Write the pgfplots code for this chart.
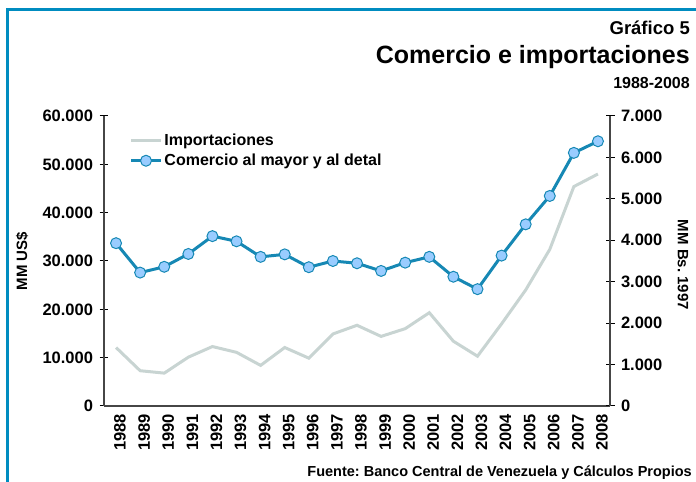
\documentclass[border=0pt]{standalone}
\usepackage{pgfplots}
\pgfplotsset{compat=1.18}
\usepackage{fontspec}
\setmainfont{Liberation Sans}
\frenchspacing
\definecolor{frame}{RGB}{0,140,192}
\definecolor{comline}{RGB}{22,136,180}
\definecolor{comfill}{RGB}{153,204,255}
\definecolor{impline}{RGB}{200,212,210}
\definecolor{axcol}{RGB}{70,70,70}
\newcommand{\fs}[1]{\fontsize{#1bp}{#1bp}\selectfont\bfseries}
\begin{document}
\begin{tikzpicture}[x=1bp,y=1bp]
\path[use as bounding box] (0,0) rectangle (696,482);
\draw[frame, line width=3bp] (7,0) -- (7,472) -- (697,472);
\node[anchor=base east, inner sep=0] at (690,447) {\fs{18.5}Gráfico 5};
\node[anchor=base east, inner sep=0] at (690,418) {\fs{25}Comercio e importaciones};
\node[anchor=base east, inner sep=0] at (690,393) {\fs{16}1988-2008};
\node[anchor=base east, inner sep=0] at (692,5) {\fs{14.5}Fuente: Banco Central de Venezuela y Cálculos Propios};
\node[rotate=90, inner sep=0] at (22,221) {\fs{15}MM US\$};
\node[rotate=-90, inner sep=0] at (683,217) {\fs{15}MM Bs. 1997};
\begin{axis}[
  at={(104bp,76bp)}, anchor=south west, scale only axis,
  width=506bp, height=290bp,
  xmin=1987.5, xmax=2008.5, ymin=0, ymax=60000,
  axis x line*=bottom, axis y line*=left,
  axis line style={axcol, line width=1.3bp},
  every tick/.style={black, line width=1bp},
  tick align=center,
  major tick length=9bp, minor tick length=9bp,
  xtick={1988,...,2008},
  minor xtick={1987.5,1988.5,...,2008.5},
  extra x ticks={2008.5}, extra x tick labels={},
  extra x tick style={major tick length=9bp},
  xtick style={draw=none},
  xticklabel style={rotate=90, anchor=east, /pgf/number format/1000 sep=, yshift=-4bp},
  ytick={0,10000,...,60000},
  scaled ticks=false,
  /pgf/number format/1000 sep={.},
  /pgf/number format/assume math mode=true,
  ticklabel style={font=\fs{16.5}},
  yticklabel style={xshift=-3bp},
  legend style={draw=none, fill=none, at={(0.05,0.945)}, anchor=north west,
    font=\fs{16}, row sep=3bp, inner sep=0pt},
  legend cell align=left,
  legend image code/.code={\draw[#1, mark repeat=2, mark phase=2] plot coordinates {(0bp,0bp) (15bp,0bp) (30bp,0bp)};},
]
\addplot[impline, line width=3bp, no marks] coordinates {
(1988,12100) (1989,7300) (1990,6800) (1991,10100) (1992,12300) (1993,11100)
(1994,8400) (1995,12100) (1996,9900) (1997,14900) (1998,16700) (1999,14400)
(2000,16000) (2001,19300) (2002,13400) (2003,10300) (2004,17000) (2005,24000)
(2006,32400) (2007,45400) (2008,48000)};
\addlegendentry{Importaciones}
\addlegendimage{comline, line width=3bp, mark=*, mark size=5.5bp, mark options={fill=comfill, draw=comline, line width=1bp}}
\addlegendentry{Comercio al mayor y al detal}
\end{axis}
\begin{axis}[
  at={(104bp,76bp)}, anchor=south west, scale only axis,
  width=506bp, height=290bp,
  xmin=1987.5, xmax=2008.5, ymin=0, ymax=7000,
  axis x line=none, axis y line*=right,
  axis line style={axcol, line width=1.3bp},
  every tick/.style={black, line width=1bp},
  tick align=center, major tick length=9bp,
  xtick=\empty,
  ytick={0,1000,...,7000},
  scaled ticks=false,
  /pgf/number format/1000 sep={.},
  /pgf/number format/assume math mode=true,
  ticklabel style={font=\fs{16.5}},
  yticklabel style={xshift=3bp},
]
\addplot[comline, line width=3bp, mark=*, mark size=5.5bp, mark options={fill=comfill, draw=comline, line width=1bp}] coordinates {
(1988,3930) (1989,3220) (1990,3360) (1991,3670) (1992,4100) (1993,3975)
(1994,3600) (1995,3660) (1996,3350) (1997,3500) (1998,3445) (1999,3260)
(2000,3460) (2001,3600) (2002,3120) (2003,2820) (2004,3630) (2005,4385)
(2006,5070) (2007,6110) (2008,6390)};
\end{axis}
\end{tikzpicture}
\end{document}
